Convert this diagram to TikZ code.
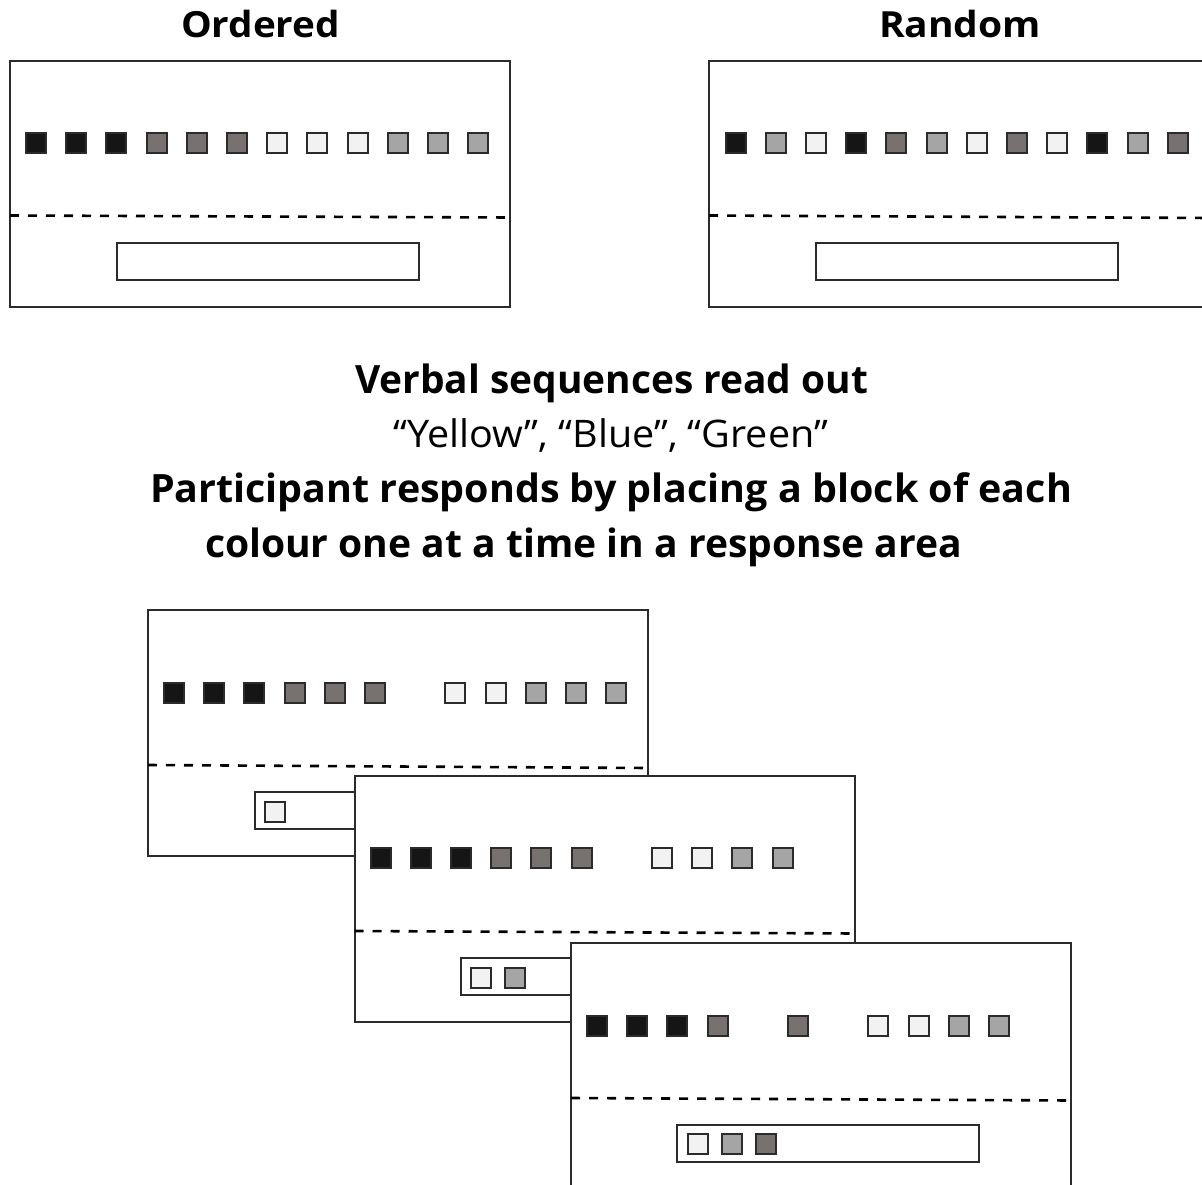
\documentclass[tikz,border=0pt]{standalone}
\usepackage{fontspec}
\setmainfont{Open Sans}
\usepackage{graphicx}

% block colours
\definecolor{blkC}{HTML}{151515}
\definecolor{dgrC}{HTML}{777170}
\definecolor{lgrC}{HTML}{A5A5A5}
\definecolor{whtC}{HTML}{F2F2F2}
\definecolor{edgeC}{HTML}{2B2B2B}

\tikzset{
  panel/.style={draw=edgeC, line width=2pt, fill=white, inner sep=0pt, outer sep=0pt,
                minimum width=500pt, minimum height=246pt, anchor=north west},
  divider/.style={dashed, dash pattern=on 9pt off 9pt, line width=2.6pt, black},
  respbox/.style={draw=edgeC, line width=2pt, fill=white, inner sep=0pt, outer sep=0pt,
                  minimum width=302pt, minimum height=37pt, anchor=north west},
  block/.style={draw=edgeC, line width=2pt, inner sep=0pt, outer sep=0pt, minimum size=20pt},
  heading/.style={inner sep=0pt, outer sep=0pt, anchor=base west, font=\fontsize{36}{40}\selectfont\bfseries},
  bodybold/.style={inner sep=0pt, outer sep=0pt, anchor=base west, font=\fontsize{39}{44}\selectfont\bfseries},
  bodyreg/.style={inner sep=0pt, outer sep=0pt, anchor=base west, font=\fontsize{38}{44}\selectfont},
}

\begin{document}
\begin{tikzpicture}[x=1pt, y=-1pt]
\clip (0,0) rectangle (1202,1185);
\fill[white] (0,0) rectangle (1202,1185);

% ---------- headings ----------
\node[heading] (hOrd) at (181,37.5) {\resizebox{159pt}{\height}{Ordered}};
\node[heading] (hRnd) at (879,37.5) {\resizebox{162pt}{\height}{Random}};

% ---------- ordered display ----------
\node[panel] (P1) at (10,61) {};
\foreach \i/\c in {0/blkC,1/blkC,2/blkC,3/dgrC,4/dgrC,5/dgrC,6/whtC,7/whtC,8/whtC,9/lgrC,10/lgrC,11/lgrC}
  \node[block, fill=\c] (a\i) at (36+40.2*\i,143) {};
\draw[divider] (10,215.5) -- (510,217.5);
\node[respbox] (R1) at (117,243) {};

% ---------- random display ----------
\node[panel] (P2) at (709,61) {};
\foreach \i/\c in {0/blkC,1/lgrC,2/whtC,3/blkC,4/dgrC,5/lgrC,6/whtC,7/dgrC,8/whtC,9/blkC,10/lgrC,11/dgrC}
  \node[block, fill=\c] (b\i) at (735.5+40.2*\i,143) {};
\draw[divider] (709,215.5) -- (1210,218);
\node[respbox] (R2) at (816,243) {};

% ---------- instructions ----------
\node[bodybold] (t1) at (355,393) {\resizebox{513pt}{\height}{Verbal sequences read out}};
\node[bodyreg]  (t2) at (393,447) {\resizebox{435pt}{\height}{“Yellow”, “Blue”, “Green”}};
\node[bodybold] (t3) at (150,502) {\resizebox{922pt}{\height}{Participant responds by placing a block of each}};
\node[bodybold] (t4) at (205,557) {\resizebox{757pt}{\height}{colour one at a time in a response area}};

% ---------- response step 1 ----------
\node[panel] (P3) at (148,610) {};
\foreach \i/\c in {0/blkC,1/blkC,2/blkC,3/dgrC,4/dgrC,5/dgrC,7/whtC,8/whtC,9/lgrC,10/lgrC,11/lgrC}
  \node[block, fill=\c] (c\i) at (174+40.2*\i,692.5) {};
\draw[divider] (148,765) -- (649,768);
\node[respbox] (R3) at (255,792) {};
\node[block, fill=whtC] (r3a) at (275,811.5) {};

% ---------- response step 2 ----------
\node[panel] (P4) at (354.5,775.5) {};
\foreach \i/\c in {0/blkC,1/blkC,2/blkC,3/dgrC,4/dgrC,5/dgrC,7/whtC,8/whtC,9/lgrC,10/lgrC}
  \node[block, fill=\c] (d\i) at (380.5+40.2*\i,858) {};
\draw[divider] (354.5,931) -- (855.5,933.5);
\node[respbox] (R4) at (461,958) {};
\node[block, fill=whtC] (r4a) at (481,977.5) {};
\node[block, fill=lgrC] (r4b) at (515,977.5) {};

% ---------- response step 3 ----------
\node[panel] (P5) at (571,943) {};
\foreach \i/\c in {0/blkC,1/blkC,2/blkC,3/dgrC,5/dgrC,7/whtC,8/whtC,9/lgrC,10/lgrC}
  \node[block, fill=\c] (e\i) at (597+40.2*\i,1025.5) {};
\draw[divider] (571,1098) -- (1072,1100.5);
\node[respbox] (R5) at (677,1125) {};
\node[block, fill=whtC] (r5a) at (697.5,1144) {};
\node[block, fill=lgrC] (r5b) at (731.7,1144) {};
\node[block, fill=dgrC] (r5c) at (765.8,1144) {};
\end{tikzpicture}
\end{document}
